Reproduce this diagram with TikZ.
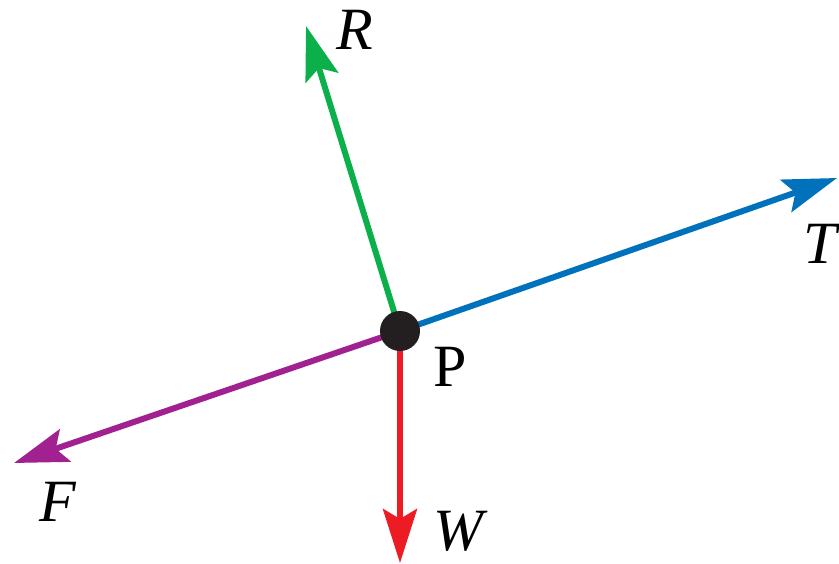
\documentclass[tikz,border=0pt]{standalone}
\usepackage{fontspec}
\setmainfont{Liberation Serif}
\usetikzlibrary{arrows.meta}
\definecolor{cR}{HTML}{0BB04B}
\definecolor{cT}{HTML}{0072BC}
\definecolor{cF}{HTML}{A0218F}
\definecolor{cW}{HTML}{ED1C24}
\definecolor{cP}{HTML}{231F20}
\begin{document}
\begin{tikzpicture}[x=1pt,y=-1pt,
  force/.style={line width=6pt,-{Stealth[length=54pt,width=34pt,inset=10pt]}},
  lbl/.style={font=\fontsize{60}{62}\selectfont\itshape,inner sep=0pt}]
\useasboundingbox (0,0) rectangle (839,564);
\coordinate (P) at (400,331);
\coordinate (Rt) at (306,26);
\coordinate (Tt) at (837,178);
\coordinate (Ft) at (14,463);
\coordinate (Wt) at (400,563);
\draw[force,cR] (P) -- (Rt);
\draw[force,cT] (P) -- (Tt);
\draw[force,cF] (P) -- (Ft);
\draw[force,cW] (P) -- (Wt);
\node[circle,fill=cP,minimum size=40pt,inner sep=0pt] (dot) at (P) {};
\node[lbl] (R) at (355,30) {R};
\node[lbl] (T) at (820,244) {T};
\node[lbl,font=\fontsize{60}{62}\selectfont] (Pl) at (450,367) {P};
\node[lbl] (F) at (58,502) {F};
\node[lbl] (W) at (458,531) {W};
\end{tikzpicture}
\end{document}
